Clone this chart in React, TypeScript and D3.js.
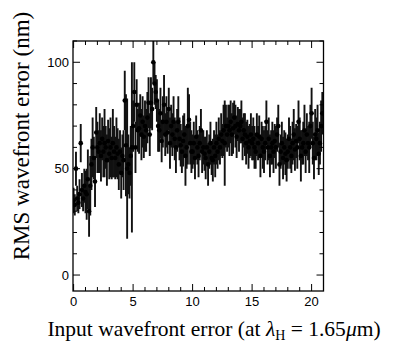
import React from "react";
import * as d3 from "d3";

// x grid: one point every 0.1 from 0.0
const xStart = 0;
const xStep = 0.1;

const yValues: number[] = [
  // 0.0-0.9
  35, 33, 50, 36, 34, 38, 62, 40, 36, 42,
  // 1.0-1.9
  39, 38, 45, 30, 42, 52, 60, 55, 44, 67,
  // 2.0-2.9
  60, 58, 62, 56, 64, 58, 62, 60, 54, 63,
  // 3.0-3.9
  57, 60, 55, 62, 58, 55, 60, 57, 52, 58,
  // 4.0-4.9
  48, 56, 54, 82, 61, 50, 52, 48, 56, 60,
  // 5.0-5.9
  70, 86, 60, 80, 68, 69, 75, 66, 72, 65,
  // 6.0-6.9
  70, 68, 74, 81, 66, 81, 78, 100, 90, 86,
  // 7.0-7.9
  82, 70, 68, 76, 63, 72, 80, 66, 72, 67,
  // 8.0-8.9
  78, 62, 70, 66, 72, 64, 60, 68, 72, 64,
  // 9.0-9.9
  61, 58, 63, 66, 56, 60, 70, 73, 62, 58,
  // 10.0-10.9
  58, 62, 55, 65, 60, 56, 62, 68, 58, 60,
  // 11.0-11.9
  57, 55, 60, 52, 58, 62, 55, 54, 60, 56,
  // 12.0-12.9
  62, 58, 64, 60, 66, 63, 68, 62, 70, 66,
  // 13.0-13.9
  70, 68, 72, 66, 69, 74, 70, 65, 71, 68,
  // 14.0-14.9
  70, 72, 64, 68, 66, 62, 65, 60, 63, 66,
  // 15.0-15.9
  62, 64, 60, 58, 66, 62, 65, 56, 64, 60,
  // 16.0-16.9
  58, 62, 72, 60, 64, 56, 60, 62, 58, 63,
  // 17.0-17.9
  60, 66, 70, 52, 58, 62, 55, 60, 57, 54,
  // 18.0-18.9
  58, 64, 60, 56, 62, 66, 59, 63, 60, 72,
  // 19.0-19.9
  64, 56, 60, 62, 68, 58, 66, 62, 60, 70,
  // 20.0-20.9
  76, 62, 55, 66, 64, 68, 57, 62, 70, 76,
];

const yErrors: number[] = [
  6, 5, 8, 6, 5, 7, 9, 8, 6, 8,
  10, 12, 14, 12, 14, 12, 14, 10, 12, 12,
  12, 10, 14, 12, 10, 12, 16, 10, 12, 10,
  12, 14, 10, 16, 12, 10, 14, 12, 12, 10,
  12, 10, 14, 14, 24, 33, 14, 12, 14, 40,
  12, 14, 12, 12, 10, 12, 10, 12, 12, 10,
  12, 10, 12, 12, 10, 12, 10, 10, 10, 8,
  10, 12, 10, 12, 10, 12, 14, 10, 12, 10,
  10, 12, 10, 10, 12, 10, 12, 10, 12, 10,
  10, 10, 12, 10, 14, 10, 18, 12, 10, 10,
  8, 10, 10, 10, 8, 10, 8, 10, 10, 8,
  8, 10, 8, 10, 8, 10, 8, 10, 8, 10,
  10, 8, 10, 8, 10, 8, 12, 20, 10, 8,
  10, 12, 10, 10, 12, 8, 10, 10, 8, 10,
  8, 10, 10, 8, 10, 10, 8, 10, 8, 10,
  8, 10, 10, 8, 10, 8, 10, 10, 8, 10,
  10, 8, 10, 8, 10, 10, 8, 10, 10, 8,
  10, 8, 10, 10, 8, 10, 10, 8, 10, 10,
  8, 10, 10, 8, 10, 12, 10, 8, 10, 10,
  10, 12, 8, 10, 12, 10, 10, 8, 12, 10,
  12, 10, 10, 12, 10, 12, 10, 10, 12, 10,
];

const xTickLabels = [0, 5, 10, 15, 20];
const yTickLabels = [0, 50, 100];

const xDomain: [number, number] = [-0.05, 21.0];
const yDomain: [number, number] = [-7.5, 110];

export default function App() {
  const W = 408;
  const H = 347;
  const left = 65;
  const right = 315.5;
  const top = 33;
  const bottom = 283;

  const x = d3.scaleLinear().domain(xDomain).range([left, right]);
  const y = d3.scaleLinear().domain(yDomain).range([bottom, top]);

  const pts = yValues.map((v, i) => ({
    x: xStart + i * xStep,
    y: v,
    e: yErrors[i],
  }));

  const xMinor = d3.range(0, 22, 1).filter((t) => t <= xDomain[1]);
  const yMinor = d3.range(0, 111, 10);

  const major = 7;
  const minor = 4;

  return (
    <svg width={W} height={H} style={{ display: "block" }}>
      <defs>
        <clipPath id="plot">
          <rect x={left} y={top} width={right - left} height={bottom - top} />
        </clipPath>
      </defs>
      <g clipPath="url(#plot)">
        {pts.map((p, i) => (
          <line
            key={"e" + i}
            x1={x(p.x)}
            x2={x(p.x)}
            y1={y(p.y - p.e)}
            y2={y(p.y + p.e)}
            stroke="#111"
            strokeWidth={1.9}
          />
        ))}
        {pts.map((p, i) => (
          <circle key={"c" + i} cx={x(p.x)} cy={y(p.y)} r={2.3} fill="#000" />
        ))}
      </g>
      <g stroke="#000" strokeWidth={1}>
        {xMinor.map((t) => {
          const L = t % 5 === 0 ? major : minor;
          return (
            <g key={"xt" + t}>
              <line x1={x(t)} x2={x(t)} y1={bottom} y2={bottom - L} />
              <line x1={x(t)} x2={x(t)} y1={top} y2={top + L} />
            </g>
          );
        })}
        {yMinor.map((t) => {
          const L = t % 50 === 0 ? major : minor;
          return (
            <g key={"yt" + t}>
              <line x1={left} x2={left + L} y1={y(t)} y2={y(t)} />
              <line x1={right} x2={right - L} y1={y(t)} y2={y(t)} />
            </g>
          );
        })}
      </g>
      <rect
        x={left}
        y={top}
        width={right - left}
        height={bottom - top}
        fill="none"
        stroke="#000"
        strokeWidth={1.3}
      />
      <g fontFamily="'Liberation Sans', Arial, sans-serif" fontSize={13} fill="#000">
        {xTickLabels.map((t) => (
          <text key={"xl" + t} x={x(t)} y={bottom + 15} textAnchor="middle">
            {t}
          </text>
        ))}
        {yTickLabels.map((t) => (
          <text key={"yl" + t} x={left - 4} y={y(t) + 4.5} textAnchor="end">
            {t}
          </text>
        ))}
      </g>
      <g fontFamily="'Liberation Serif', 'Times New Roman', serif" fill="#000">
        <text x={206} y={328} textAnchor="middle" fontSize={21.5}>
          Input wavefront error (at <tspan fontStyle="italic">λ</tspan>
          <tspan fontSize={14} dy={4}>H</tspan>
          <tspan dy={-4}> = 1.65</tspan>
          <tspan fontStyle="italic">μ</tspan>m)
        </text>
        <text
          transform={`translate(${21}, ${128}) rotate(-90)`}
          textAnchor="middle"
          fontSize={23}
        >
          RMS wavefront error (nm)
        </text>
      </g>
    </svg>
  );
}
